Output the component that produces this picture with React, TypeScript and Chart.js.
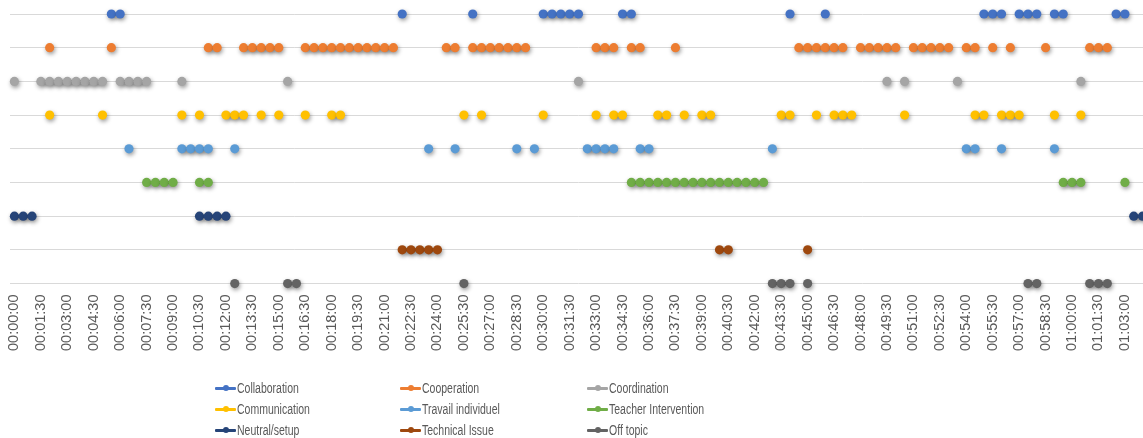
import React, { useEffect, useRef } from "react";
import { Chart, registerables } from "chart.js";

Chart.register(...registerables);

const _ = null;

const timeLabels = [
  "00:00:00","00:00:30","00:01:00","00:01:30","00:02:00","00:02:30","00:03:00","00:03:30","00:04:00","00:04:30",
  "00:05:00","00:05:30","00:06:00","00:06:30","00:07:00","00:07:30","00:08:00","00:08:30","00:09:00","00:09:30",
  "00:10:00","00:10:30","00:11:00","00:11:30","00:12:00","00:12:30","00:13:00","00:13:30","00:14:00","00:14:30",
  "00:15:00","00:15:30","00:16:00","00:16:30","00:17:00","00:17:30","00:18:00","00:18:30","00:19:00","00:19:30",
  "00:20:00","00:20:30","00:21:00","00:21:30","00:22:00","00:22:30","00:23:00","00:23:30","00:24:00","00:24:30",
  "00:25:00","00:25:30","00:26:00","00:26:30","00:27:00","00:27:30","00:28:00","00:28:30","00:29:00","00:29:30",
  "00:30:00","00:30:30","00:31:00","00:31:30","00:32:00","00:32:30","00:33:00","00:33:30","00:34:00","00:34:30",
  "00:35:00","00:35:30","00:36:00","00:36:30","00:37:00","00:37:30","00:38:00","00:38:30","00:39:00","00:39:30",
  "00:40:00","00:40:30","00:41:00","00:41:30","00:42:00","00:42:30","00:43:00","00:43:30","00:44:00","00:44:30",
  "00:45:00","00:45:30","00:46:00","00:46:30","00:47:00","00:47:30","00:48:00","00:48:30","00:49:00","00:49:30",
  "00:50:00","00:50:30","00:51:00","00:51:30","00:52:00","00:52:30","00:53:00","00:53:30","00:54:00","00:54:30",
  "00:55:00","00:55:30","00:56:00","00:56:30","00:57:00","00:57:30","00:58:00","00:58:30","00:59:00","00:59:30",
  "01:00:00","01:00:30","01:01:00","01:01:30","01:02:00","01:02:30","01:03:00","01:03:30","01:04:00",
];

const tickLabels = [
  "00:00:00","00:01:30","00:03:00","00:04:30","00:06:00","00:07:30","00:09:00","00:10:30","00:12:00","00:13:30",
  "00:15:00","00:16:30","00:18:00","00:19:30","00:21:00","00:22:30","00:24:00","00:25:30","00:27:00","00:28:30",
  "00:30:00","00:31:30","00:33:00","00:34:30","00:36:00","00:37:30","00:39:00","00:40:30","00:42:00","00:43:30",
  "00:45:00","00:46:30","00:48:00","00:49:30","00:51:00","00:52:30","00:54:00","00:55:30","00:57:00","00:58:30",
  "01:00:00","01:01:30","01:03:00",
];

const collaboration = [
  _,_,_,_,_,_,_,_,_,_,
  _,9,9,_,_,_,_,_,_,_,
  _,_,_,_,_,_,_,_,_,_,
  _,_,_,_,_,_,_,_,_,_,
  _,_,_,_,9,_,_,_,_,_,
  _,_,9,_,_,_,_,_,_,_,
  9,9,9,9,9,_,_,_,_,9,
  9,_,_,_,_,_,_,_,_,_,
  _,_,_,_,_,_,_,_,9,_,
  _,_,9,_,_,_,_,_,_,_,
  _,_,_,_,_,_,_,_,_,_,
  9,9,9,_,9,9,9,_,9,9,
  _,_,_,_,_,9,9,_,_,
];

const cooperation = [
  _,_,_,_,8,_,_,_,_,_,
  _,8,_,_,_,_,_,_,_,_,
  _,_,8,8,_,_,8,8,8,8,
  8,_,_,8,8,8,8,8,8,8,
  8,8,8,8,_,_,_,_,_,8,
  8,_,8,8,8,8,8,8,8,_,
  _,_,_,_,_,_,8,8,8,_,
  8,8,_,_,_,8,_,_,_,_,
  _,_,_,_,_,_,_,_,_,8,
  8,8,8,8,8,_,8,8,8,8,
  8,_,8,8,8,8,8,_,8,8,
  _,8,_,8,_,_,_,8,_,_,
  _,_,8,8,8,_,_,_,_,
];

const coordination = [
  7,_,_,7,7,7,7,7,7,7,
  7,_,7,7,7,7,_,_,_,7,
  _,_,_,_,_,_,_,_,_,_,
  _,7,_,_,_,_,_,_,_,_,
  _,_,_,_,_,_,_,_,_,_,
  _,_,_,_,_,_,_,_,_,_,
  _,_,_,_,7,_,_,_,_,_,
  _,_,_,_,_,_,_,_,_,_,
  _,_,_,_,_,_,_,_,_,_,
  _,_,_,_,_,_,_,_,_,7,
  _,7,_,_,_,_,_,7,_,_,
  _,_,_,_,_,_,_,_,_,_,
  _,7,_,_,_,_,_,_,_,
];

const communication = [
  _,_,_,_,6,_,_,_,_,_,
  6,_,_,_,_,_,_,_,_,6,
  _,6,_,_,6,6,6,_,6,_,
  6,_,_,6,_,_,6,6,_,_,
  _,_,_,_,_,_,_,_,_,_,
  _,6,_,6,_,_,_,_,_,_,
  6,_,_,_,_,_,6,_,6,6,
  _,_,_,6,6,_,6,_,6,6,
  _,_,_,_,_,_,_,6,6,_,
  _,6,_,6,6,6,_,_,_,_,
  _,6,_,_,_,_,_,_,_,6,
  6,_,6,6,6,_,_,_,6,_,
  _,6,_,_,_,_,_,_,_,
];

const travailIndividuel = [
  _,_,_,_,_,_,_,_,_,_,
  _,_,_,5,_,_,_,_,_,5,
  5,5,5,_,_,5,_,_,_,_,
  _,_,_,_,_,_,_,_,_,_,
  _,_,_,_,_,_,_,5,_,_,
  5,_,_,_,_,_,_,5,_,5,
  _,_,_,_,_,5,5,5,5,_,
  _,5,5,_,_,_,_,_,_,_,
  _,_,_,_,_,_,5,_,_,_,
  _,_,_,_,_,_,_,_,_,_,
  _,_,_,_,_,_,_,_,5,5,
  _,_,5,_,_,_,_,_,5,_,
  _,_,_,_,_,_,_,_,_,
];

const teacherIntervention = [
  _,_,_,_,_,_,_,_,_,_,
  _,_,_,_,_,4,4,4,4,_,
  _,4,4,_,_,_,_,_,_,_,
  _,_,_,_,_,_,_,_,_,_,
  _,_,_,_,_,_,_,_,_,_,
  _,_,_,_,_,_,_,_,_,_,
  _,_,_,_,_,_,_,_,_,_,
  4,4,4,4,4,4,4,4,4,4,
  4,4,4,4,4,4,_,_,_,_,
  _,_,_,_,_,_,_,_,_,_,
  _,_,_,_,_,_,_,_,_,_,
  _,_,_,_,_,_,_,_,_,4,
  4,4,_,_,_,_,4,_,_,
];

const neutralSetup = [
  3,3,3,_,_,_,_,_,_,_,
  _,_,_,_,_,_,_,_,_,_,
  _,3,3,3,3,_,_,_,_,_,
  _,_,_,_,_,_,_,_,_,_,
  _,_,_,_,_,_,_,_,_,_,
  _,_,_,_,_,_,_,_,_,_,
  _,_,_,_,_,_,_,_,_,_,
  _,_,_,_,_,_,_,_,_,_,
  _,_,_,_,_,_,_,_,_,_,
  _,_,_,_,_,_,_,_,_,_,
  _,_,_,_,_,_,_,_,_,_,
  _,_,_,_,_,_,_,_,_,_,
  _,_,_,_,_,_,_,3,3,
];

const technicalIssue = [
  _,_,_,_,_,_,_,_,_,_,
  _,_,_,_,_,_,_,_,_,_,
  _,_,_,_,_,_,_,_,_,_,
  _,_,_,_,_,_,_,_,_,_,
  _,_,_,_,2,2,2,2,2,_,
  _,_,_,_,_,_,_,_,_,_,
  _,_,_,_,_,_,_,_,_,_,
  _,_,_,_,_,_,_,_,_,_,
  2,2,_,_,_,_,_,_,_,_,
  2,_,_,_,_,_,_,_,_,_,
  _,_,_,_,_,_,_,_,_,_,
  _,_,_,_,_,_,_,_,_,_,
  _,_,_,_,_,_,_,_,_,
];

const offTopic = [
  _,_,_,_,_,_,_,_,_,_,
  _,_,_,_,_,_,_,_,_,_,
  _,_,_,_,_,1,_,_,_,_,
  _,1,1,_,_,_,_,_,_,_,
  _,_,_,_,_,_,_,_,_,_,
  _,1,_,_,_,_,_,_,_,_,
  _,_,_,_,_,_,_,_,_,_,
  _,_,_,_,_,_,_,_,_,_,
  _,_,_,_,_,_,1,1,1,_,
  1,_,_,_,_,_,_,_,_,_,
  _,_,_,_,_,_,_,_,_,_,
  _,_,_,_,_,1,1,_,_,_,
  _,_,1,1,1,_,_,_,_,
];

const seriesNames = [
  "Collaboration","Cooperation","Coordination",
  "Communication","Travail individuel","Teacher Intervention",
  "Neutral/setup","Technical Issue","Off topic",
];
const seriesColors = [
  "#4472C4","#ED7D31","#A5A5A5",
  "#FFC000","#5B9BD5","#70AD47",
  "#264478","#9E480E","#636363",
];
const seriesData = [
  collaboration, cooperation, coordination,
  communication, travailIndividuel, teacherIntervention,
  neutralSetup, technicalIssue, offTopic,
];

const shadowPlugin = {
  id: "dotShadow",
  beforeDatasetDraw(chart: any) {
    const c = chart.ctx;
    c.save();
    c.shadowColor = "rgba(0,0,0,0.4)";
    c.shadowBlur = 4;
    c.shadowOffsetX = 1;
    c.shadowOffsetY = 2;
  },
  afterDatasetDraw(chart: any) {
    chart.ctx.restore();
  },
};

export default function App() {
  const canvasRef = useRef<HTMLCanvasElement | null>(null);

  useEffect(() => {
    if (!canvasRef.current) return;
    const chart = new Chart(canvasRef.current, {
      type: "line",
      data: {
        labels: timeLabels,
        datasets: seriesNames.map((name, i) => ({
          label: name,
          data: seriesData[i],
          borderColor: seriesColors[i],
          backgroundColor: seriesColors[i],
          pointBackgroundColor: seriesColors[i],
          pointBorderColor: seriesColors[i],
          pointBorderWidth: 0,
          pointRadius: 4.6,
          borderWidth: 3,
          spanGaps: false,
          clip: false as any,
          tension: 0,
        })),
      },
      options: {
        animation: false,
        responsive: true,
        maintainAspectRatio: false,
        layout: { padding: { left: 10, right: 10, top: 14, bottom: 76 } },
        plugins: { legend: { display: false }, tooltip: { enabled: false } },
        scales: {
          x: {
            type: "category",
            offset: true,
            grid: { display: false, drawTicks: false },
            border: { display: false },
            ticks: {
              autoSkip: false,
              maxRotation: 90,
              minRotation: 90,
              padding: 11,
              color: "#595959",
              font: { family: "'Liberation Sans', Arial, sans-serif", size: 14.5 },
              callback: (_v: any, idx: number) =>
                tickLabels.includes(timeLabels[idx]) ? timeLabels[idx] : "",
            },
          },
          y: {
            min: 1,
            max: 9,
            ticks: { display: false, stepSize: 1 },
            grid: { color: "#d9d9d9", lineWidth: 1, drawTicks: false },
            border: { display: false },
          },
        },
      },
      plugins: [shadowPlugin],
    });
    return () => chart.destroy();
  }, []);

  const legendCols = [215, 400, 587];
  const legendRows = [388, 409, 430];

  return (
    <div style={{ position: "fixed", left: 0, top: 0, width: 1143, height: 438, overflow: "hidden", background: "#fff" }}>
      <div style={{ position: "absolute", left: 0, top: 0, width: 1171, height: 438 }}>
        <canvas ref={canvasRef} />
      </div>
      {seriesNames.map((name, i) => {
        const x = legendCols[i % 3];
        const y = legendRows[Math.floor(i / 3)];
        return (
          <div key={name} style={{ position: "absolute", left: x, top: y - 10, height: 20, display: "flex", alignItems: "center" }}>
            <div style={{ position: "relative", width: 21, height: 20, flex: "none" }}>
              <div style={{ position: "absolute", left: 0, top: 8.5, width: 21, height: 3, background: seriesColors[i], borderRadius: 1 }} />
              <div style={{ position: "absolute", left: 7.5, top: 7, width: 6, height: 6, borderRadius: 3, background: seriesColors[i] }} />
            </div>
            <span style={{ marginLeft: 1, display: "inline-block", transform: "scaleX(0.75)", transformOrigin: "left center", fontFamily: "'Liberation Sans', Arial, sans-serif", fontSize: 14, color: "#595959", whiteSpace: "nowrap", lineHeight: "20px" }}>{name}</span>
          </div>
        );
      })}
    </div>
  );
}
